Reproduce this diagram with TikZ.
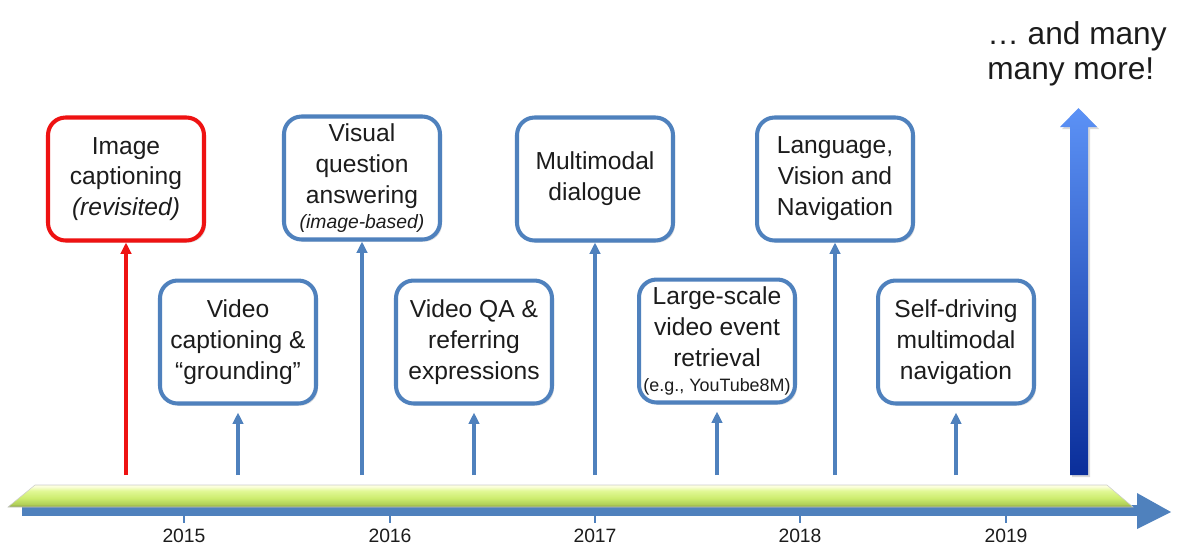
\documentclass[tikz,border=0pt]{standalone}
\usepackage{fontspec}
\setmainfont{Liberation Sans}
\usetikzlibrary{arrows.meta,shadows}
\definecolor{tlblue}{RGB}{79,129,189}
\definecolor{tlred}{RGB}{238,18,18}
\definecolor{barhi}{RGB}{252,255,222}
\definecolor{bartop}{RGB}{226,248,150}
\definecolor{barmid}{RGB}{204,236,110}
\definecolor{barlow}{RGB}{176,206,88}
\definecolor{barbot}{RGB}{128,152,60}
\definecolor{moretop}{RGB}{92,146,246}
\definecolor{morebot}{RGB}{10,46,154}
\definecolor{ink}{RGB}{28,28,28}
\pgfdeclareverticalshading{barshade}{100bp}{color(0bp)=(barbot); color(25bp)=(barbot);
  color(31bp)=(barlow); color(45bp)=(barmid); color(62bp)=(bartop); color(72bp)=(barhi); color(100bp)=(barhi)}
\tikzset{
  topic/.style={draw=tlblue, line width=2.3pt, rounded corners=10pt, fill=white, text=ink,
    minimum width=3.12cm, minimum height=2.46cm, inner sep=1pt, align=center,
    font=\fontsize{14}{17.6}\selectfont,
    drop shadow={opacity=.25, shadow xshift=1.2pt, shadow yshift=-1.2pt}},
  stem/.style={draw=tlblue, line width=2.2pt, -{Triangle[width=6pt,length=6.5pt]}},
  year/.style={font=\fontsize{11}{12}\selectfont, text=ink}
}
\begin{document}
\begin{tikzpicture}[x=0.02cm,y=-0.02cm]
\useasboundingbox (0,0) rectangle (1201,549);
% timeline: blue arrow under the green bar
\fill[tlblue] (22,505) rectangle (1139,516);
\fill[tlblue] (1137,493) -- (1171,512) -- (1137,529) -- cycle;
\foreach \x/\yr in {184/2015,390/2016,595/2017,800/2018,1006/2019}{
  \draw[tlblue, line width=1.4pt] (\x,516) -- (\x,523);
  \node[year] (y\yr) at (\x,536) {\yr};
}
\shade[shading=barshade, draw=black!20, line width=.3pt]
  (8,507) -- (35,485) -- (1107,485) -- (1133,507) -- cycle;
%\draw (0,0) grid[step=100] (1200,549);
% stems start on top of the bar
\foreach \n/\x in {imgcap/126,vidcap/238,vqa/362,vidqa/474,dialog/595,retrieval/717,vln/835,selfdrive/956}
  \coordinate (\n-t) at (\x,475);
% upper row
\node[topic, draw=tlred] (imgcap) at (126,179) {Image\\captioning\\\textit{(revisited)}};
\node[topic] (vqa) at (362,178) {Visual\\question\\answering\\[-3pt]{\itshape\fontsize{11}{12}\selectfont (image-based)}};
\node[topic] (dialog) at (595,179) {Multimodal\\dialogue};
\node[topic] (vln) at (835,179) {Language,\\Vision and\\Navigation};
% lower row
\node[topic] (vidcap) at (238,342) {Video\\captioning \&\\“grounding”};
\node[topic] (vidqa) at (474,342) {Video QA \&\\referring\\expressions};
\node[topic] (retrieval) at (717,341) {Large-scale\\video event\\retrieval\\[-3pt]{\fontsize{10.2}{11}\selectfont (e.g., YouTube8M)}};
\node[topic] (selfdrive) at (956,342) {Self-driving\\multimodal\\navigation};
\draw[stem, draw=tlred] (imgcap-t) -- (imgcap.south);
\foreach \n in {vqa,dialog,vln}
  \draw[stem] (\n-t) -- (\n.south);
\foreach \n in {vidcap,vidqa,retrieval,selfdrive}
  \draw[stem, shorten >=4pt] (\n-t) -- (\n.south);
% ... and many more
\shade[top color=moretop, bottom color=morebot, drop shadow={opacity=.3, shadow xshift=1.2pt, shadow yshift=-1.2pt}]
  (1070,475) -- (1070,127) -- (1060,127) -- (1078.5,108) -- (1097,127) -- (1088,127) -- (1088,475) -- cycle;
\node[anchor=north west, align=left, inner sep=0pt, text=ink, font=\fontsize{18}{19.8}\selectfont] (more) at (987,21) {… and many\\many more!};
\end{tikzpicture}
\end{document}
